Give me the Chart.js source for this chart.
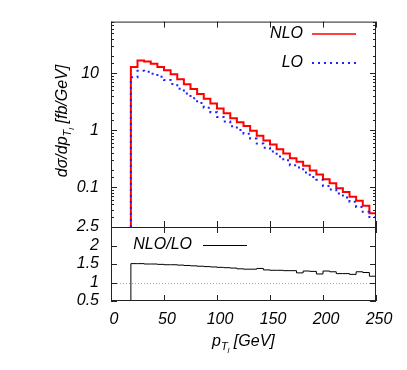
<!DOCTYPE html>
<html lang="en">
<head>
    <meta charset="UTF-8">
    <title>pT distribution NLO / LO</title>
    <script src="https://cdn.jsdelivr.net/npm/chart.js"></script>
    <style>
        body { margin: 0; background: #fff; }
        canvas { position: absolute; left: 0; top: 0; }
    </style>
</head>
<body>
    <canvas id="topChart" width="407" height="370"></canvas>
    <canvas id="ratioChart" width="407" height="370"></canvas>

    <script>
        // bin edges in GeV (37 bins)
        const binEdges = [18.75, 25, 31.25, 37.5, 43.75, 50, 56.25, 62.5, 68.75, 75, 81.25, 87.5, 93.75,
            100, 106.25, 112.5, 118.75, 125, 131.25, 137.5, 143.75, 150, 156.25, 162.5, 168.75, 175,
            181.25, 187.5, 193.75, 200, 206.25, 212.5, 218.75, 225, 231.25, 237.5, 243.75, 250];

        // dsigma/dpT in fb/GeV
        const nloValues = [12.8, 16.6, 15.9, 14.6, 12.8, 11.2, 9.5, 7.8, 6.4, 5.26, 4.32, 3.55, 2.92,
            2.40, 1.97, 1.62, 1.38, 1.18, 0.97, 0.80, 0.66, 0.56, 0.46, 0.39, 0.32, 0.28, 0.237, 0.195,
            0.166, 0.137, 0.117, 0.096, 0.082, 0.068, 0.058, 0.047, 0.035];
        const loValues = [8.48, 10.99, 10.6, 9.73, 8.59, 7.57, 6.42, 5.31, 4.38, 3.63, 3.0, 2.48, 2.06,
            1.70, 1.41, 1.165, 1.007, 0.868, 0.713, 0.580, 0.493, 0.421, 0.346, 0.295, 0.242, 0.222,
            0.181, 0.150, 0.135, 0.105, 0.0907, 0.0774, 0.0661, 0.0557, 0.045, 0.037, 0.0299];
        const ratioValues = [1.51, 1.51, 1.50, 1.50, 1.49, 1.48, 1.48, 1.47, 1.46, 1.45, 1.44, 1.43, 1.42,
            1.41, 1.40, 1.39, 1.37, 1.36, 1.36, 1.38, 1.34, 1.33, 1.33, 1.32, 1.32, 1.26, 1.31, 1.30,
            1.23, 1.31, 1.29, 1.24, 1.24, 1.22, 1.29, 1.27, 1.17];

        // axis ticks
        const xTicks = [0, 50, 100, 150, 200, 250];
        const logLabels = [0.1, 1, 10];
        const ratioTicks = [0.5, 1, 1.5, 2, 2.5];

        const FONT = '"Liberation Sans", Arial, Helvetica, sans-serif';
        const tickFont = { family: FONT, size: 16, style: 'italic' };
        const LEFT = 111, RIGHT_PAD = 31;

        // histogram outline as stepped line, closed down to the floor at both ends
        function histPoints(vals, floor) {
            const pts = [{ x: binEdges[0], y: floor }];
            vals.forEach((v, i) => pts.push({ x: binEdges[i], y: v }));
            pts.push({ x: binEdges[binEdges.length - 1], y: vals[vals.length - 1] });
            pts.push({ x: binEdges[binEdges.length - 1], y: floor });
            return pts;
        }

        function seg(ctx, x1, y1, x2, y2) {
            ctx.beginPath(); ctx.moveTo(x1, y1); ctx.lineTo(x2, y2); ctx.stroke();
        }

        // text with subscripts, parts = [text, size, dy]
        function drawParts(ctx, parts, x, y) {
            parts.forEach(([t, size, dy]) => {
                ctx.font = 'italic ' + size + 'px ' + FONT;
                ctx.fillText(t, x, y + dy);
                x += ctx.measureText(t).width;
            });
        }
        function partsWidth(ctx, parts) {
            let w = 0;
            parts.forEach(([t, size]) => { ctx.font = 'italic ' + size + 'px ' + FONT; w += ctx.measureText(t).width; });
            return w;
        }

        function drawXTicks(ctx, xs, a) {
            xTicks.forEach(v => {
                const px = Math.round(xs.getPixelForValue(v)) + 0.5;
                seg(ctx, px, a.top, px, a.top + 6);
                seg(ctx, px, a.bottom, px, a.bottom - 6);
            });
        }

        // frame, inward ticks and legend for the upper panel
        const topDecor = {
            id: 'topDecor',
            afterDraw(chart) {
                const ctx = chart.ctx, a = chart.chartArea;
                const xs = chart.scales.x, ys = chart.scales.y;
                ctx.save();
                ctx.strokeStyle = '#222';
                ctx.lineWidth = 1;
                ctx.strokeRect(a.left + 0.5, a.top + 0.5, a.right - a.left - 1, a.bottom - a.top);
                drawXTicks(ctx, xs, a);
                ys.ticks.forEach(t => {
                    const lg = Math.log10(t.value);
                    const major = Math.abs(lg - Math.round(lg)) < 1e-6;
                    const len = major ? 6 : 3;
                    const py = Math.round(ys.getPixelForValue(t.value)) + 0.5;
                    seg(ctx, a.left, py, a.left + len, py);
                    seg(ctx, a.right, py, a.right - len, py);
                });

                // legend
                ctx.fillStyle = '#000';
                ctx.font = 'italic 16px ' + FONT;
                ctx.textAlign = 'right';
                ctx.textBaseline = 'middle';
                ctx.fillText('NLO', 303, 34);
                ctx.fillText('LO', 303, 63);
                ctx.strokeStyle = '#ff0000';
                ctx.lineWidth = 1.6;
                seg(ctx, 312, 34, 356, 34);
                ctx.strokeStyle = '#1f1fff';
                ctx.lineWidth = 2;
                ctx.setLineDash([2, 4]);
                seg(ctx, 312, 63, 356, 63);
                ctx.restore();
            }
        };

        // frame, ticks, legend and axis titles for the ratio panel
        const ratioDecor = {
            id: 'ratioDecor',
            beforeDatasetsDraw(chart) {
                const ctx = chart.ctx, a = chart.chartArea, ys = chart.scales.y;
                ctx.save();
                ctx.strokeStyle = '#aaa';
                ctx.lineWidth = 1;
                ctx.setLineDash([1, 2]);
                const py = Math.round(ys.getPixelForValue(1)) + 0.5;
                seg(ctx, a.left, py, a.right, py);
                ctx.restore();
            },
            afterDraw(chart) {
                const ctx = chart.ctx, a = chart.chartArea;
                const xs = chart.scales.x, ys = chart.scales.y;
                ctx.save();
                ctx.strokeStyle = '#222';
                ctx.lineWidth = 1;
                ctx.strokeRect(a.left + 0.5, a.top + 0.5, a.right - a.left - 1, a.bottom - a.top - 1);
                drawXTicks(ctx, xs, a);
                ratioTicks.forEach(v => {
                    const py = Math.round(ys.getPixelForValue(v)) + 0.5;
                    seg(ctx, a.left, py, a.left + 6, py);
                    seg(ctx, a.right, py, a.right - 6, py);
                });

                ctx.fillStyle = '#000';
                ctx.strokeStyle = '#000';
                ctx.font = 'italic 16px ' + FONT;
                ctx.textAlign = 'right';
                ctx.textBaseline = 'middle';
                ctx.fillText('NLO/LO', 192, 245);
                seg(ctx, 203, 245.5, 247, 245.5);

                // axis titles
                ctx.textAlign = 'left';
                ctx.textBaseline = 'alphabetic';
                drawParts(ctx, [['p', 16, 0], ['T', 11, 4], ['l', 8, 7], [' [GeV]', 16, 0]], 212, 346);

                const yParts = [['dσ/dp', 16, 0], ['T', 11, 4], ['l', 8, 7], [' [fb/GeV]', 16, 0]];
                const w = partsWidth(ctx, yParts);
                ctx.translate(67, 121);
                ctx.rotate(-Math.PI / 2);
                drawParts(ctx, yParts, -w / 2, 0);
                ctx.restore();
            }
        };

        new Chart(document.getElementById('topChart'), {
            type: 'line',
            data: {
                datasets: [{
                    label: 'LO',
                    data: histPoints(loValues, 0.02),
                    borderColor: '#1f1fff',
                    borderWidth: 2,
                    borderDash: [2, 4],
                    order: 0
                }, {
                    label: 'NLO',
                    data: histPoints(nloValues, 0.02),
                    borderColor: '#ff0000',
                    borderWidth: 2,
                    order: 1
                }]
            },
            options: {
                responsive: false,
                animation: false,
                layout: { padding: { top: 16, right: RIGHT_PAD, bottom: 370 - 227, left: 0 } },
                elements: { point: { radius: 0 }, line: { stepped: true, tension: 0, fill: false } },
                plugins: { legend: { display: false }, tooltip: { enabled: false } },
                scales: {
                    x: { type: 'linear', min: 0, max: 250, display: false },
                    y: {
                        type: 'logarithmic', min: 0.02, max: 80,
                        grid: { display: false, drawTicks: false },
                        border: { display: false },
                        afterFit: s => { s.width = LEFT; },
                        ticks: {
                            autoSkip: false, padding: 12, color: '#000', font: tickFont,
                            callback: v => logLabels.some(l => Math.abs(l - v) < 1e-9) ? String(v) : ''
                        }
                    }
                }
            },
            plugins: [topDecor]
        });

        new Chart(document.getElementById('ratioChart'), {
            type: 'line',
            data: {
                datasets: [{
                    label: 'NLO/LO',
                    data: histPoints(ratioValues, 0.5),
                    borderColor: '#000',
                    borderWidth: 1
                }]
            },
            options: {
                responsive: false,
                animation: false,
                layout: { padding: { top: 227, right: RIGHT_PAD, bottom: 0, left: 0 } },
                elements: { point: { radius: 0 }, line: { stepped: true, tension: 0, fill: false } },
                plugins: { legend: { display: false }, tooltip: { enabled: false } },
                scales: {
                    x: {
                        type: 'linear', min: 0, max: 250,
                        grid: { display: false, drawTicks: false },
                        border: { display: false },
                        afterFit: s => { s.height = 69; },
                        afterBuildTicks: s => { s.ticks = xTicks.map(v => ({ value: v })); },
                        ticks: { autoSkip: false, padding: 9, labelOffset: 3, color: '#000', font: tickFont, maxRotation: 0 }
                    },
                    y: {
                        type: 'linear', min: 0.5, max: 2.5,
                        grid: { display: false, drawTicks: false },
                        border: { display: false },
                        afterFit: s => { s.width = LEFT; },
                        afterBuildTicks: s => { s.ticks = ratioTicks.map(v => ({ value: v })); },
                        ticks: { autoSkip: false, padding: 12, color: '#000', font: tickFont, callback: v => String(v) }
                    }
                }
            },
            plugins: [ratioDecor]
        });
    </script>
</body>
</html>
